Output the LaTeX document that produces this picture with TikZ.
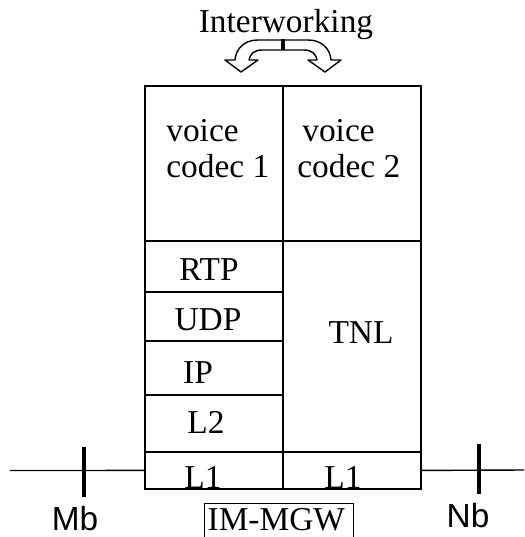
\documentclass[tikz,border=0pt]{standalone}
\usepackage{fontspec}
\setmainfont{Liberation Serif}
\newfontfamily\arialfont{Liberation Sans}
\usetikzlibrary{positioning}

\begin{document}
\begin{tikzpicture}[
  x=0.02cm, y=-0.02cm,
  every node/.style={font=\fontsize{19}{20.5}\selectfont, inner sep=0pt},
  cell/.style={draw, line width=1pt, outer sep=0pt, minimum width=2.76cm, anchor=north west},
  txt/.style={anchor=base},
  iface/.style={line width=0.8pt},
  tick/.style={line width=2.8pt},
  ref/.style={anchor=base, font=\arialfont\fontsize{19}{20.5}\selectfont}
]
\useasboundingbox (0,0) rectangle (524,537);

% =================== interworking ===================
\node[txt] (iw) at (286,33) {Interworking};
\draw[line width=0.8pt, line join=round]
  (241,72) -- (258,60) -- (249,60) .. controls (250,54) and (254,50) .. (262,50)
  -- (304,50) .. controls (312,50) and (316,54) .. (317,60) -- (308,60) -- (325,72)
  -- (341,60) -- (331,60) .. controls (330,48) and (321,40) .. (308,40)
  -- (258,40) .. controls (245,40) and (236,48) .. (235,60) -- (225,60) -- cycle;
\draw[line width=2pt] (283,39) -- (283,50);

% =================== left stack ===================
\node[cell, minimum height=3.1cm] (codec1) at (145,86) {};
\node[cell, minimum height=1.02cm, below=0pt of codec1] (rtp) {};
\node[cell, minimum height=0.98cm, below=0pt of rtp] (udp) {};
\node[cell, minimum height=1.08cm, below=0pt of udp] (ip) {};
\node[cell, minimum height=1.14cm, below=0pt of ip] (l2) {};
\node[cell, minimum height=0.74cm, below=0pt of l2] (l1a) {};

% =================== right stack ===================
\node[cell, minimum height=3.1cm] (codec2) at (283,86) {};
\node[cell, minimum height=4.22cm, below=0pt of codec2] (tnl) {};
\node[cell, minimum height=0.74cm, below=0pt of tnl] (l1b) {};

% =================== layer names ===================
\node[anchor=north west, align=left] (codec1txt) at (166,119) {voice\\codec 1};
\node[anchor=north west, align=left] (codec2txt) at (297,119) {\hspace*{0.1cm}voice\\codec 2};
\node[txt] (rtptxt) at (209,280) {RTP};
\node[txt] (udptxt) at (208,330) {UDP};
\node[txt] (iptxt) at (198,383) {IP};
\node[txt] (l2txt) at (206,433) {L2};
\node[txt] (l1atxt) at (203,488) {L1};
\node[txt] (tnltxt) at (361,343) {TNL};
\node[txt] (l1btxt) at (343,488) {L1};

% =================== interfaces ===================
\coordinate (mbend) at (10,470.5);
\coordinate (nbend) at (524,470);
\draw[iface] (mbend) -- (l1a.west);
\draw[iface] (l1b.east) -- (nbend);
\coordinate (mbtick) at (84,472);
\coordinate (nbtick) at (479,469);
\draw[tick] (mbtick) ++(0,-25) -- ++(0,50);
\draw[tick] (nbtick) ++(0,-25) -- ++(0,50);
\node[ref] (mb) at (75,530) {Mb};
\node[ref] (nb) at (468,527) {Nb};

% =================== gateway name ===================
\node[draw, line width=0.8pt, anchor=north west, align=left, text width=2.86cm,
      inner xsep=0.06cm, inner ysep=0.1cm, text depth=0.12cm] (mgw) at (204,503) {IM-MGW};

\end{tikzpicture}
\end{document}
